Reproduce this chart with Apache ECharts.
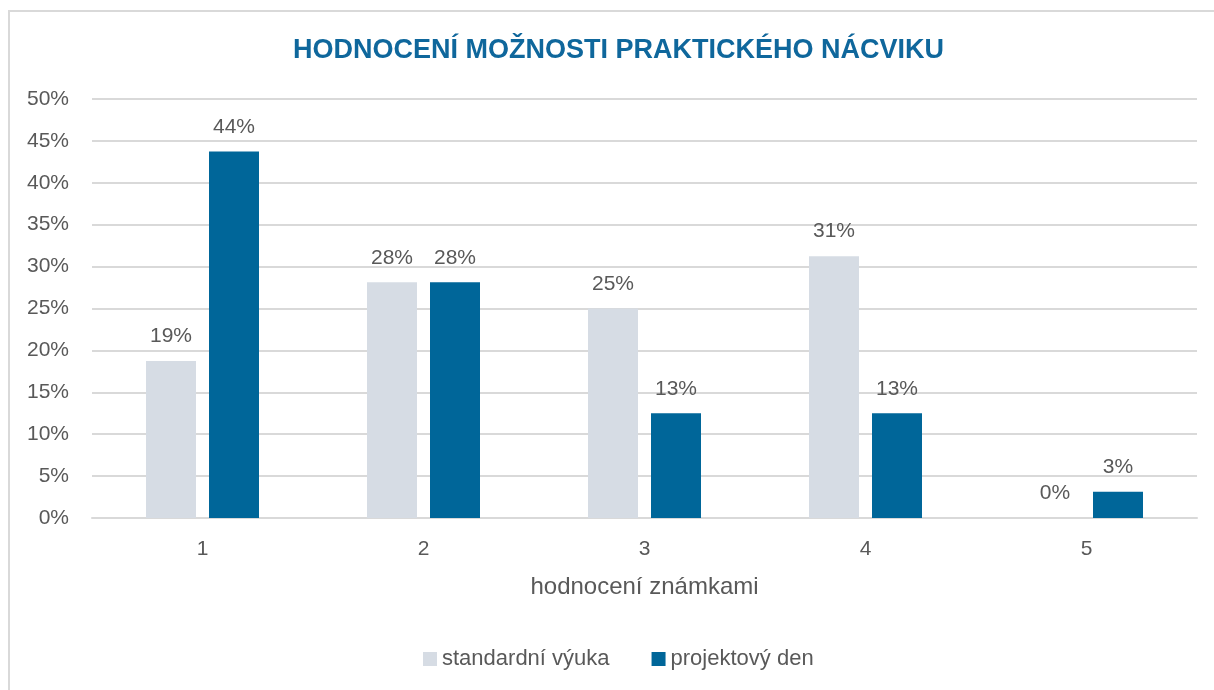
<!DOCTYPE html>
<html><head><meta charset="utf-8">
<script src="https://cdn.jsdelivr.net/npm/echarts@6/dist/echarts.min.js"></script>
<style>
html,body{margin:0;padding:0;background:#fff;}
#frame{position:absolute;left:8px;top:10px;width:1214px;height:690px;border:2px solid #d9d9d9;box-sizing:border-box;}
#c{position:absolute;left:0;top:0;width:1214px;height:690px;}
</style></head>
<body>
<div id="frame"></div>
<div id="c"></div>
<script>
const categories = ['1','2','3','4','5'];
const standardni = [18.75, 28.125, 25, 31.25, 0];
const projektovy = [43.75, 28.125, 12.5, 12.5, 3.125];
const seriesNames = ['standardní výuka', 'projektový den'];
const titleText = 'HODNOCENÍ MOŽNOSTI PRAKTICKÉHO NÁCVIKU';
const xAxisName = 'hodnocení známkami';

const FONT = '"Liberation Sans", Arial, sans-serif';
const chart = echarts.init(document.getElementById('c'), null, {renderer:'canvas'});
const lbl = {
  show:true, position:'top', distance:14, color:'#595959', fontSize:21,
  fontFamily:FONT,
  formatter: p => Math.round(p.value) + '%'
};
chart.setOption({
  animation:false,
  title:{
    text:titleText, left:288, top:32,
    textStyle:{color:'#0F679C', fontSize:27, fontWeight:'bold', fontFamily:FONT}
  },
  legend:{
    bottom:15, left:418, itemWidth:14, itemHeight:14, itemGap:42,
    icon:'rect',
    textStyle:{color:'#595959', fontSize:22, fontFamily:FONT},
    data:seriesNames
  },
  grid:{left:92, right:17, top:99, bottom:172, containLabel:false},
  xAxis:{
    type:'category', data:categories,
    name:xAxisName, nameLocation:'middle', nameGap:57,
    nameTextStyle:{color:'#595959', fontSize:24, fontFamily:FONT},
    axisLine:{lineStyle:{color:'#d9d9d9', width:2}},
    axisTick:{show:false},
    axisLabel:{color:'#595959', fontSize:21, margin:21, fontFamily:FONT}
  },
  yAxis:{
    type:'value', min:0, max:50, interval:5,
    axisLine:{show:false}, axisTick:{show:false},
    splitLine:{lineStyle:{color:'#d9d9d9', width:2}},
    axisLabel:{color:'#595959', fontSize:21, margin:23, formatter:'{value}%', fontFamily:FONT}
  },
  series:[
    {name:seriesNames[0], type:'bar', data:standardni, barWidth:50, barGap:'26%',
     itemStyle:{color:'#D6DCE4'}, label:lbl},
    {name:seriesNames[1], type:'bar', data:projektovy, barWidth:50, barGap:'26%',
     itemStyle:{color:'#006699'}, label:lbl}
  ]
});
</script>
</body></html>
